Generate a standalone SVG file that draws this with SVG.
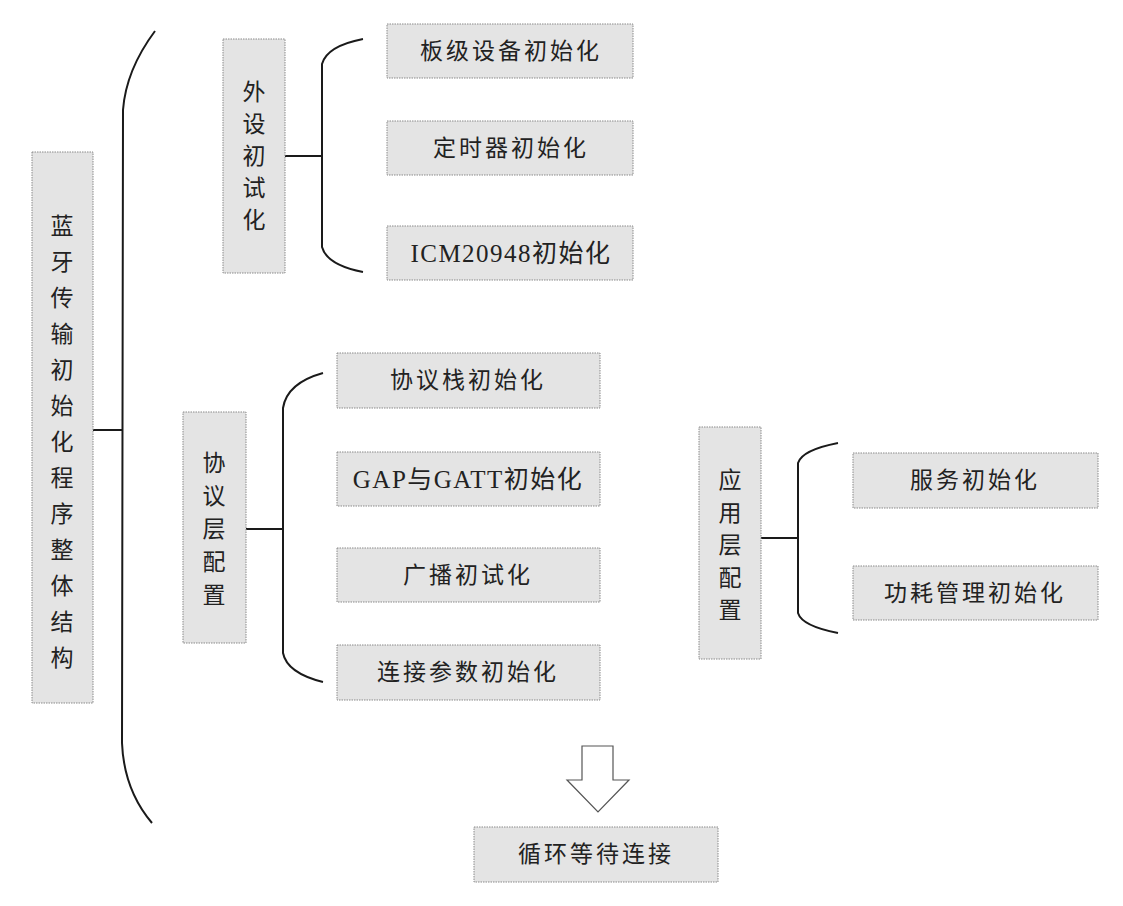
<svg xmlns="http://www.w3.org/2000/svg" width="1123" height="906" viewBox="0 0 1123 906">
  <style>
    .box { fill: #e4e4e4; stroke: #8a8a8a; stroke-width: 1; stroke-dasharray: 1.5 1; }
    .lbl { font-family: "Liberation Serif", "Noto Sans CJK SC", serif; font-size: 23px; fill: #222; text-anchor: middle; letter-spacing: 3px; }
    .lat { font-size: 25px; letter-spacing: 1.5px; }
    .vlbl { font-family: "Noto Sans CJK SC", sans-serif; font-size: 23px; fill: #222; text-anchor: middle; }
    .line { fill: none; stroke: #1a1a1a; stroke-width: 2; }
    .arrow { fill: #fff; stroke: #555; stroke-width: 1.2; }
  </style>
  <rect width="1123" height="906" fill="#fff"/>

  <!-- brackets and connecting strokes -->
  <g id="connectors">
    <!-- main bracket -->
    <path class="line" d="M155,31 Q126,70 123,110 L122,743 Q124,790 152,823"/>
    <line class="line" x1="93" y1="430" x2="122" y2="430"/>
    <!-- peripheral bracket -->
    <path class="line" d="M363,39 Q327,46 322,64 L322,247 Q327,265 363,272"/>
    <line class="line" x1="285" y1="156" x2="322" y2="156"/>
    <!-- protocol bracket -->
    <path class="line" d="M323,373 Q287,383 283,408 L283,653 Q287,673 323,682"/>
    <line class="line" x1="246" y1="529" x2="283" y2="529"/>
    <!-- application bracket -->
    <path class="line" d="M838,443 Q802,450 798,463 L798,613 Q802,626 838,633"/>
    <line class="line" x1="761" y1="538" x2="798" y2="538"/>
    <!-- hollow down arrow -->
    <path class="arrow" d="M582,746 L613,746 L613,780 L629,780 L598,812 L567,780 L582,780 Z"/>
  </g>

  <g id="main">
    <rect class="box" x="32" y="152" width="61" height="551"/>
    <text class="vlbl" x="62" y="234">
      <tspan x="62">蓝</tspan><tspan x="62" dy="36">牙</tspan><tspan x="62" dy="36">传</tspan><tspan x="62" dy="36">输</tspan><tspan x="62" dy="36">初</tspan><tspan x="62" dy="36">始</tspan><tspan x="62" dy="36">化</tspan><tspan x="62" dy="36">程</tspan><tspan x="62" dy="36">序</tspan><tspan x="62" dy="36">整</tspan><tspan x="62" dy="36">体</tspan><tspan x="62" dy="36">结</tspan><tspan x="62" dy="36">构</tspan>
    </text>
  </g>

  <g id="peripheral">
    <rect class="box" x="223" y="39" width="62" height="234"/>
    <text class="vlbl" x="254" y="100">
      <tspan x="254">外</tspan><tspan x="254" dy="32">设</tspan><tspan x="254" dy="32">初</tspan><tspan x="254" dy="32">试</tspan><tspan x="254" dy="32">化</tspan>
    </text>
  </g>
  <g id="board-init">
    <rect class="box" x="387" y="24" width="246" height="54"/>
    <text class="lbl" x="511" y="59">板级设备初始化</text>
  </g>
  <g id="timer-init">
    <rect class="box" x="387" y="121" width="246" height="54"/>
    <text class="lbl" x="511" y="156">定时器初始化</text>
  </g>
  <g id="icm-init">
    <rect class="box" x="387" y="226" width="246" height="54"/>
    <text class="lbl lat" x="511" y="262">ICM20948初始化</text>
  </g>

  <g id="protocol">
    <rect class="box" x="183" y="412" width="63" height="231"/>
    <text class="vlbl" x="214" y="471">
      <tspan x="214">协</tspan><tspan x="214" dy="33">议</tspan><tspan x="214" dy="33">层</tspan><tspan x="214" dy="33">配</tspan><tspan x="214" dy="33">置</tspan>
    </text>
  </g>
  <g id="stack-init">
    <rect class="box" x="337" y="353" width="263" height="55"/>
    <text class="lbl" x="468" y="388">协议栈初始化</text>
  </g>
  <g id="gap-gatt-init">
    <rect class="box" x="337" y="452" width="263" height="54"/>
    <text class="lbl lat" x="468" y="488">GAP与GATT初始化</text>
  </g>
  <g id="adv-init">
    <rect class="box" x="337" y="548" width="263" height="54"/>
    <text class="lbl" x="468" y="583">广播初试化</text>
  </g>
  <g id="conn-param-init">
    <rect class="box" x="337" y="645" width="263" height="55"/>
    <text class="lbl" x="468" y="680">连接参数初始化</text>
  </g>

  <g id="application">
    <rect class="box" x="699" y="427" width="62" height="232"/>
    <text class="vlbl" x="730" y="488">
      <tspan x="730">应</tspan><tspan x="730" dy="32.5">用</tspan><tspan x="730" dy="32.5">层</tspan><tspan x="730" dy="32.5">配</tspan><tspan x="730" dy="32.5">置</tspan>
    </text>
  </g>
  <g id="service-init">
    <rect class="box" x="853" y="453" width="245" height="55"/>
    <text class="lbl" x="975" y="488">服务初始化</text>
  </g>
  <g id="power-init">
    <rect class="box" x="853" y="566" width="245" height="54"/>
    <text class="lbl" x="975" y="601">功耗管理初始化</text>
  </g>

  <g id="wait-conn">
    <rect class="box" x="474" y="827" width="244" height="55"/>
    <text class="lbl" x="596" y="862">循环等待连接</text>
  </g>
</svg>
